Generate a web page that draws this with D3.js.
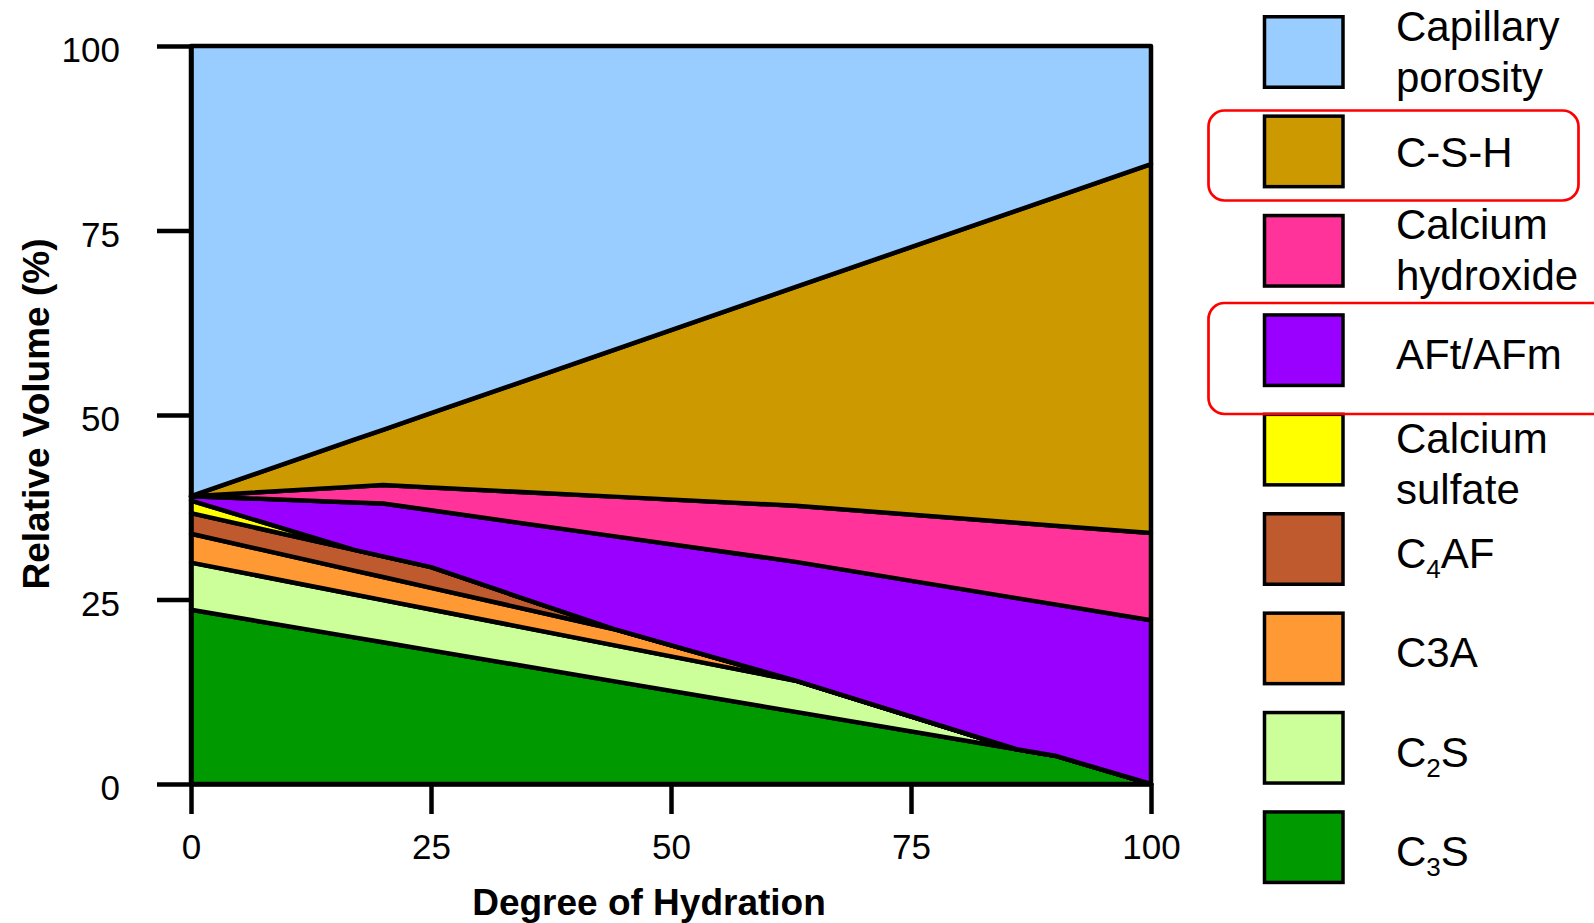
<!DOCTYPE html>
<html>
<head>
<meta charset="utf-8">
<script src="https://cdn.jsdelivr.net/npm/d3@7"></script>
<style>
  body { margin: 0; background: #fff; }
  text { font-family: "Liberation Sans", Arial, sans-serif; }
</style>
</head>
<body>
<svg id="chart" width="1594" height="923"></svg>
<script>
// * data (relative volume %, per phase)
const hydration = [0, 17, 20, 25, 44, 63, 86, 90, 100];
const c3s       = [23.6, 19.87, 19.21, 18.11, 13.94, 9.77, 4.71, 3.84, 0];
const c2s       = [6.4, 5.81, 5.71, 5.54, 4.88, 4.23, 0, 0, 0];
const c3a       = [3.9, 3.24, 3.12, 2.93, 2.19, 0, 0, 0, 0];
const c4af      = [2.8, 2.8, 2.8, 2.8, 0, 0, 0, 0, 0];
const gypsum    = [1.7, 0, 0, 0, 0, 0, 0, 0, 0];
const aft       = [0.6, 6.43, 7.16, 7.70, 12.58, 16.10, 20.48, 20.50, 22.2];
const ch        = [0, 2.13, 2.50, 3.09, 5.35, 7.60, 10.21, 10.66, 11.8];
const csh       = [0, 6.37, 7.50, 10.08, 19.86, 29.65, 42.30, 44.50, 50.0];
const porosity  = [61.0, 53.35, 52.0, 49.75, 41.2, 32.65, 22.3, 20.5, 16.0];

const xTicks = [0, 25, 50, 75, 100];
const yTicks = [0, 25, 50, 75, 100];

// stacking order, bottom first
const keys = ['c3s', 'c2s', 'c3a', 'c4af', 'gypsum', 'aft', 'ch', 'csh', 'porosity'];
const series = { c3s, c2s, c3a, c4af, gypsum, aft, ch, csh, porosity };
const colors = {
  porosity: '#99ccff', csh: '#cc9900', ch: '#ff3399', aft: '#9900ff', gypsum: '#ffff00',
  c4af: '#bf5a2e', c3a: '#ff9933', c2s: '#ccff99', c3s: '#009900'
};
// legend, top to bottom. [text, subscript, text] parts per line
const legendItems = [
  { key: 'porosity', lines: [[['Capillary']], [['porosity']]] },
  { key: 'csh',      lines: [[['C-S-H']]] },
  { key: 'ch',       lines: [[['Calcium']], [['hydroxide']]] },
  { key: 'aft',      lines: [[['AFt/AFm']]] },
  { key: 'gypsum',   lines: [[['Calcium']], [['sulfate']]] },
  { key: 'c4af',     lines: [[['C'], ['4', 'sub'], ['AF']]] },
  { key: 'c3a',      lines: [[['C3A']]] },
  { key: 'c2s',      lines: [[['C'], ['2', 'sub'], ['S']]] },
  { key: 'c3s',      lines: [[['C'], ['3', 'sub'], ['S']]] }
];

const margin = { top: 46, left: 191, right: 443, bottom: 139 };
const width = 1594, height = 923;

const svg = d3.select('#chart');

const x = d3.scaleLinear().domain([0, 100]).range([margin.left, width - margin.right]);
const y = d3.scaleLinear().domain([0, 100]).range([height - margin.bottom, margin.top]);

const table = hydration.map((h, i) => {
  const row = { h };
  keys.forEach((k) => row[k] = series[k][i]);
  return row;
});

const stacked = d3.stack().keys(keys)(table);

const area = d3.area()
  .x((d) => x(d.data.h))
  .y0((d) => y(d[0]))
  .y1((d) => y(d[1]));

svg.append('g')
  .selectAll('path')
  .data(stacked)
  .enter()
  .append('path')
  .attr('d', area)
  .attr('fill', (d) => colors[d.key])
  .attr('stroke', '#000')
  .attr('stroke-width', 4.5)
  .attr('stroke-linejoin', 'round');

// axes
const xAxis = d3.axisBottom(x).tickValues(xTicks).tickSize(30).tickSizeOuter(0).tickPadding(20);
const yAxis = d3.axisLeft(y).tickValues(yTicks).tickSize(34).tickSizeOuter(0).tickPadding(37);

const gx = svg.append('g')
  .attr('transform', `translate(0,${y(0)})`)
  .call(xAxis);
const gy = svg.append('g')
  .attr('transform', `translate(${x(0)},0)`)
  .call(yAxis);

[gx, gy].forEach((g) => {
  g.selectAll('path, line').attr('stroke', '#000').attr('stroke-width', 4.5);
  g.selectAll('text')
    .attr('fill', '#000')
    .style('font-size', '35px')
    .style('font-family', '"Liberation Sans", Arial, sans-serif');
});
// y labels sit a little lower than the tick in the original
gy.selectAll('text').attr('dy', '0.45em');

svg.append('text')
  .text('Degree of Hydration')
  .attr('x', 649)
  .attr('y', 915)
  .attr('text-anchor', 'middle')
  .style('font-size', '37px')
  .style('font-weight', 'bold');

svg.append('text')
  .text('Relative Volume (%)')
  .attr('transform', 'translate(49,414) rotate(-90)')
  .attr('text-anchor', 'middle')
  .style('font-size', '37px')
  .style('font-weight', 'bold');

// legend
const legend = svg.append('g');
const step = 99.4;
legendItems.forEach((item, i) => {
  const top = 15 + step * i;
  const center = top + 37;
  legend.append('rect')
    .attr('x', 1264.5)
    .attr('y', top + 1.75)
    .attr('width', 78.5)
    .attr('height', 70.5)
    .attr('fill', colors[item.key])
    .attr('stroke', '#000')
    .attr('stroke-width', 3.5);

  let baselines;
  if (item.lines.length === 1) {
    baselines = [center + (item.key === 'csh' ? 16 : 19)];
  } else if (item.key === 'gypsum') {
    baselines = [center + 3, center + 54];
  } else {
    baselines = [center - 11.5, center + 39.5];
  }

  item.lines.forEach((parts, li) => {
    const t = legend.append('text')
      .attr('x', 1396)
      .attr('y', baselines[li])
      .style('font-size', '42px')
      .attr('fill', '#000');
    let shifted = false;
    parts.forEach(([str, kind]) => {
      const span = t.append('tspan').text(str);
      if (kind === 'sub') {
        span.attr('dy', 10).style('font-size', '26px');
        shifted = true;
      } else if (shifted) {
        span.attr('dy', -10);
        shifted = false;
      }
    });
  });
});

// red highlight boxes
svg.append('rect')
  .attr('x', 1208.5).attr('y', 110.5)
  .attr('width', 370).attr('height', 90)
  .attr('rx', 16)
  .attr('fill', 'none')
  .attr('stroke', '#ff0000')
  .attr('stroke-width', 2.7);

svg.append('rect')
  .attr('x', 1208.5).attr('y', 303)
  .attr('width', 430).attr('height', 111)
  .attr('rx', 16)
  .attr('fill', 'none')
  .attr('stroke', '#ff0000')
  .attr('stroke-width', 2.7);
</script>
</body>
</html>
